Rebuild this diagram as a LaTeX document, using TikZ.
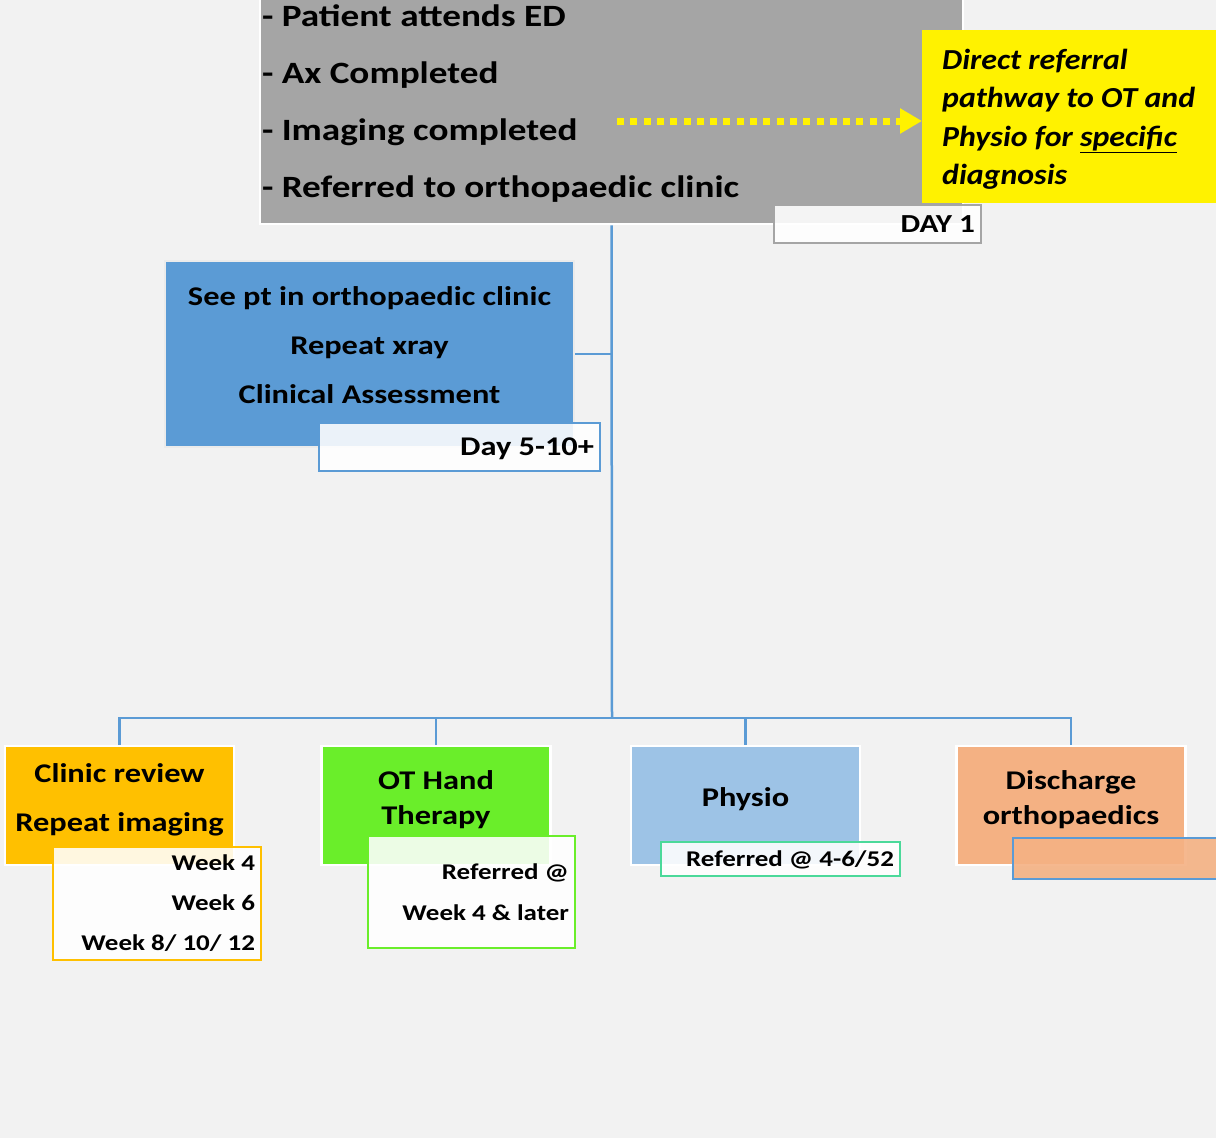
\documentclass[tikz,border=0pt]{standalone}
\usepackage{fontspec}
\setmainfont{Carlito}[FakeStretch=1.2]
\newfontfamily\notefont{Carlito}[FakeStretch=1.1]
\usetikzlibrary{arrows.meta}
\definecolor{bggrey}{RGB}{242,242,242}
\definecolor{edgrey}{RGB}{165,165,165}
\definecolor{clinicblue}{RGB}{91,155,213}
\definecolor{lightblue}{RGB}{157,195,230}
\definecolor{amber}{RGB}{255,192,0}
\definecolor{lime}{RGB}{106,238,42}
\definecolor{peach}{RGB}{244,177,131}
\definecolor{teal}{RGB}{75,217,154}

\begin{document}
\begin{tikzpicture}[x=1pt, y=-1pt,
    every node/.append style={execute at begin node={\spaceskip=\fontdimen2\font\xspaceskip=\fontdimen2\font}},
    box/.style={draw=white, line width=2.5pt, minimum width=229pt, minimum height=119pt,
        inner sep=0pt, align=center, font=\bfseries\fontsize{27}{35}\selectfont},
    tag/.style={fill=white, fill opacity=0.88, text opacity=1, line width=2.5pt,
        inner ysep=0pt, inner xsep=6pt, align=right, font=\bfseries\fontsize{22.5}{40}\selectfont},
    link/.style={draw=clinicblue, line width=2.5pt}]

% page
\useasboundingbox (0,0) rectangle (1216,1138);
\fill[bggrey] (0,0) rectangle (1216,1138);
\clip (0,0) rectangle (1216,1138);

% day 1 in ED
\node[fill=edgrey, draw=white, line width=2.5pt, minimum width=703pt, minimum height=241pt,
    text width=699pt, inner xsep=2pt, align=left,
    font=\bfseries\fontsize{31}{57}\selectfont] (ed) at (611.5,103.5)
    {- Patient attends ED\\- Ax Completed\\- Imaging completed\\- Referred to orthopaedic clinic};
\node[tag, draw=edgrey, minimum width=207pt, minimum height=38pt, text width=195pt,
    font=\bfseries\fontsize{26}{30}\selectfont] (day1) at (877.5,224) {DAY 1};

% direct referral
\node[fill=yellow, anchor=north west, minimum width=294pt, minimum height=173pt,
    text width=264pt, inner xsep=20pt, inner ysep=0pt, align=left,
    font=\notefont\bfseries\itshape\fontsize{29}{38.5}\selectfont] (direct) at (922,30)
    {\rule{0pt}{25pt}Direct referral\\pathway to OT and\\Physio for \underline{specific}\\diagnosis};
\coordinate (dotstart) at (617,121);
\draw[yellow, line width=7pt, dash pattern=on 7pt off 6.3pt,
    -{Triangle[length=22pt,width=24pt]}] (dotstart) -- (direct.west |- dotstart);

% orthopaedic clinic
\node[box, fill=clinicblue, draw=black!8, minimum width=409pt, minimum height=186pt,
    font=\bfseries\fontsize{27}{49}\selectfont] (clinic) at (369.5,354)
    {See pt in orthopaedic clinic\\Repeat xray\\Clinical Assessment\rule[-18pt]{0pt}{0pt}};
\node[tag, draw=clinicblue, minimum width=281pt, minimum height=48pt, text width=269pt,
    text height=17.5pt, text depth=0pt,
    font=\bfseries\fontsize{27}{30}\selectfont] (day510) at (459.5,447) {Day 5-10+};

% outcomes
\node[box, fill=amber, font=\bfseries\fontsize{27}{49}\selectfont] (review) at (119.5,805.5)
    {Clinic review\\Repeat imaging\rule[-16pt]{0pt}{0pt}};
\node[box, fill=lime] (ot) at (436,805.5) {OT Hand\\Therapy\rule[-16pt]{0pt}{0pt}};
\node[box, fill=lightblue] (physio) at (745.5,805.5) {Physio\rule[-16pt]{0pt}{0pt}};
\node[box, fill=peach] (disch) at (1071,805.5) {Discharge\\orthopaedics\rule[-16pt]{0pt}{0pt}};

\node[tag, draw=amber, minimum width=208pt, minimum height=113pt, text width=196pt] (weeks)
    at (157,903.5) {Week 4\\Week 6\\Week 8/ 10/ 12};
\node[tag, draw=lime, minimum width=207pt, minimum height=112pt, text width=195pt,
    font=\bfseries\fontsize{22.5}{41}\selectfont] (otref) at (471.5,892)
    {Referred @\\Week 4 \& later};
\node[tag, draw=teal, minimum width=239pt, minimum height=34pt, text width=227pt,
    text height=14.5pt, text depth=0pt,
    font=\bfseries\fontsize{22.5}{30}\selectfont] (phref) at (780.5,859) {Referred @ 4-6/52};
\node[draw=clinicblue, fill=peach, fill opacity=0.9, line width=2.5pt,
    minimum width=217pt, minimum height=41pt] (dischtag) at (1121.5,858.5) {};

% connectors
\coordinate (hub) at (612,718);
\draw[link] (ed.south) -- (hub);
\draw[link] (clinic.east) -- (clinic.east -| hub);
\foreach \n in {review,ot,physio,disch}
    \draw[link] (hub) -| (\n.north);
\end{tikzpicture}
\end{document}
